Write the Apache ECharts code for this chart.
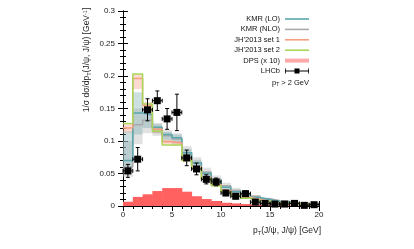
<!DOCTYPE html>
<html><head><meta charset="utf-8">
<script src="https://cdn.jsdelivr.net/npm/echarts@6/dist/echarts.min.js"></script>
<style>html,body{margin:0;padding:0;background:#fff}#c{width:414px;height:249px}</style>
</head><body><div id="c"></div>
<script>
const binEdges = [0,1,2,3,4,5,6,7,8,9,10,11,12,13,14,15,16,17,18,19,20];
const xTicks = [0,5,10,15,20];
const yTicks = [0,0.05,0.1,0.15,0.2,0.25,0.3];

const kmrLO     = [0.070,0.143,0.140,0.121,0.110,0.105,0.082,0.066,0.050,0.039,0.029,0.022,0.017,0.013,0.010,0.007,0.006,0.004,0.003,0.003];
const kmrLOlo   = [0.058,0.110,0.120,0.112,0.102,0.097,0.075,0.060,0.045,0.034,0.025,0.019,0.014,0.011,0.008,0.006,0.004,0.003,0.002,0.002];
const kmrLOhi   = [0.115,0.175,0.150,0.126,0.114,0.110,0.088,0.071,0.054,0.043,0.032,0.025,0.019,0.015,0.011,0.008,0.007,0.005,0.004,0.003];
const kmrNLO    = [0.060,0.125,0.132,0.118,0.108,0.103,0.082,0.067,0.052,0.041,0.031,0.024,0.019,0.015,0.011,0.008,0.007,0.005,0.004,0.003];
const kmrNLOlo  = [0.045,0.095,0.112,0.108,0.100,0.095,0.075,0.061,0.047,0.036,0.027,0.021,0.016,0.012,0.009,0.007,0.005,0.004,0.003,0.002];
const kmrNLOhi  = [0.100,0.150,0.145,0.128,0.117,0.112,0.092,0.075,0.059,0.047,0.036,0.028,0.022,0.017,0.013,0.010,0.008,0.006,0.005,0.004];
const jh1       = [0.120,0.196,0.155,0.118,0.099,0.097,0.072,0.060,0.044,0.033,0.024,0.018,0.013,0.010,0.007,0.005,0.004,0.003,0.003,0.002];
const jh1lo     = [0.113,0.180,0.148,0.112,0.095,0.093,0.068,0.056,0.041,0.031,0.022,0.016,0.012,0.009,0.006,0.005,0.004,0.003,0.002,0.002];
const jh1hi     = [0.126,0.203,0.160,0.122,0.102,0.100,0.075,0.062,0.046,0.035,0.026,0.019,0.014,0.011,0.008,0.006,0.005,0.004,0.003,0.002];
const jh2       = [0.127,0.203,0.157,0.115,0.094,0.094,0.070,0.058,0.042,0.031,0.022,0.016,0.012,0.009,0.007,0.005,0.004,0.003,0.002,0.002];
const dps       = [0.0066,0.014,0.018,0.023,0.0276,0.0276,0.022,0.015,0.0107,0.0077,0.005,0.004,0.003,0.002,0.0015,0.001,0.001,0.0008,0.0006,0.0005];
const lhcbX     = [0.5,1.5,2.5,3.5,4.5,5.5,6.5,7.5,8.5,9.5,10.5,11.5,12.5,13.5,14.5,15.5,16.5,17.5,18.5,19.5];
const lhcbY     = [0.054,0.072,0.148,0.162,0.134,0.144,0.074,0.057,0.041,0.037,0.020,0.015,0.019,0.006,0.004,0.003,0.003,0.004,0.001,0.002];
const lhcbErr   = [0.010,0.018,0.017,0.015,0.016,0.028,0.012,0.009,0.007,0.006,0.004,0.004,0.004,0.003,0.002,0.002,0.002,0.002,0.002,0.002];
const lhcbXErr  = 0.5;

function stepPts(vals){
  const out=[];
  for(let i=0;i<vals.length;i++){ out.push([binEdges[i],vals[i]]); out.push([binEdges[i+1],vals[i]]); }
  return out;
}
function bandData(lo,hi){ return lo.map((l,i)=>[binEdges[i],binEdges[i+1],l,hi[i]]); }
function bandSeries(name,lo,hi,fill){
  return {name:name,type:'custom',data:bandData(lo,hi),silent:true,
    renderItem:function(p,api){
      const a=api.coord([api.value(0),api.value(3)]);
      const b=api.coord([api.value(1),api.value(2)]);
      return {type:'rect',shape:{x:a[0],y:a[1],width:b[0]-a[0],height:b[1]-a[1]},style:{fill:fill}};
    }};
}
function lineSeries(name,vals,color){
  return {name:name,type:'line',data:stepPts(vals),symbol:'none',lineStyle:{color:color,width:1.5},itemStyle:{color:color},z:4};
}
const font='Liberation Sans';
const lineIcon='path://M0,0H24V1.6H0Z';
const chart=echarts.init(document.getElementById('c'),null,{renderer:'canvas'});
const axisCommon={min:0,axisLine:{show:true,lineStyle:{color:'#000',width:1}},splitLine:{show:false}};
chart.setOption({
  animation:false,
  grid:{left:123,right:95,top:11,bottom:43},
  xAxis:[
    Object.assign({type:'value',max:20,interval:5,axisTick:{inside:true,length:5,lineStyle:{color:'#000'}},
      minorTick:{show:true,splitNumber:5,length:3,lineStyle:{color:'#000'}},
      axisLabel:{fontFamily:font,fontSize:8,color:'#222',margin:5,formatter:v=>xTicks.includes(v)?String(v):''}},axisCommon),
    Object.assign({type:'value',position:'top',max:20,interval:5,axisTick:{inside:true,length:5,lineStyle:{color:'#000'}},
      minorTick:{show:true,splitNumber:5,length:3,lineStyle:{color:'#000'}},axisLabel:{show:false}},axisCommon)
  ],
  yAxis:[
    Object.assign({type:'value',max:0.3,interval:0.05,axisTick:{inside:true,length:5,lineStyle:{color:'#000'}},
      minorTick:{show:true,splitNumber:5,length:3,lineStyle:{color:'#000'}},
      axisLabel:{fontFamily:font,fontSize:8,color:'#222',margin:8,formatter:v=>{const t=yTicks.find(q=>Math.abs(q-v)<1e-9);return t===undefined?'':String(t);}}},axisCommon),
    Object.assign({type:'value',position:'right',max:0.3,interval:0.05,axisTick:{inside:true,length:5,lineStyle:{color:'#000'}},
      minorTick:{show:true,splitNumber:5,length:3,lineStyle:{color:'#000'}},axisLabel:{show:false}},axisCommon)
  ],
  legend:{orient:'vertical',right:105,top:14,padding:0,align:'right',itemWidth:24,itemHeight:10,itemGap:0.4,
    symbolKeepAspect:true,
    textStyle:{fontFamily:font,fontSize:7.5,color:'#111',lineHeight:10},
    data:[
      {name:'KMR (LO)',icon:lineIcon,itemStyle:{color:'#5aa8ae'}},
      {name:'KMR (NLO)',icon:lineIcon,itemStyle:{color:'#aaaaaa'}},
      {name:"JH'2013 set 1",icon:lineIcon,itemStyle:{color:'#f4a080'}},
      {name:"JH'2013 set 2",icon:lineIcon,itemStyle:{color:'#a6d65a'}},
      {name:'DPS (x 10)',icon:'path://M0,0H24V4H0Z',itemStyle:{color:'#ffaaaa'}},
      {name:'LHCb',icon:'path://M0,3.6H9.5V1.5H14.5V3.6H24V4.4H14.5V6.5H9.5V4.4H0ZM0,1.5H0.8V6.5H0ZM23.2,1.5H24V6.5H23.2ZM0,0H0.01V0.01H0ZM0,7.99H0.01V8H0Z',itemStyle:{color:'#000'}}
    ]},
  graphic:[
    {type:'text',x:87,y:60,rotation:Math.PI/2,style:{text:'1/σ dσ/dp{s|T}(J/ψ, J/ψ) [GeV{u|-1}]',fontFamily:font,fontSize:8.5,fill:'#222',align:'center',verticalAlign:'middle',
      rich:{s:{fontSize:5.5,fontFamily:font,fill:'#222',padding:[4,0,0,0]},u:{fontSize:5.5,fontFamily:font,fill:'#222',padding:[0,0,4,0]}}}},
    {type:'text',x:321,y:231,style:{text:'p{s|T}(J/ψ, J/ψ) [GeV]',fontFamily:font,fontSize:8.5,fill:'#222',align:'right',verticalAlign:'middle',
      rich:{s:{fontSize:5.5,fontFamily:font,fill:'#222',padding:[4,0,0,0]}}}},
    {type:'text',x:309,y:83,style:{text:'p{s|T} > 2 GeV',fontFamily:font,fontSize:7.5,fill:'#111',align:'right',verticalAlign:'middle',
      rich:{s:{fontSize:5,fontFamily:font,fill:'#111',padding:[3,0,0,0]}}}}
  ],
  series:[
    bandSeries('nlo band',kmrNLOlo,kmrNLOhi,'rgba(190,190,190,0.45)'),
    bandSeries('lo band',kmrLOlo,kmrLOhi,'rgba(110,165,170,0.35)'),
    bandSeries('jh1 band',jh1lo,jh1hi,'rgba(245,150,120,0.35)'),
    {name:'DPS (x 10)',type:'custom',data:dps.map((v,i)=>[binEdges[i],binEdges[i+1],v]),itemStyle:{color:'#ff6060'},z:3,
      renderItem:function(p,api){
        const a=api.coord([api.value(0),api.value(2)]);const b=api.coord([api.value(1),0]);
        return {type:'rect',shape:{x:a[0],y:a[1],width:b[0]-a[0]+0.5,height:b[1]-a[1]},style:{fill:'#ff6060'}};
      }},
    lineSeries('KMR (NLO)',kmrNLO,'#aaaaaa'),
    lineSeries('KMR (LO)',kmrLO,'#5aa8ae'),
    lineSeries("JH'2013 set 1",jh1,'#f4a080'),
    lineSeries("JH'2013 set 2",jh2,'#a6d65a'),
    {name:'LHCb',type:'custom',z:6,itemStyle:{color:'#000'},data:lhcbX.map((x,i)=>[x,lhcbY[i],lhcbErr[i]]),
      renderItem:function(p,api){
        const x=api.value(0),y=api.value(1),e=api.value(2);
        const c=api.coord([x,y]),t=api.coord([x,y+e]),b=api.coord([x,y-e]);
        const l=api.coord([x-lhcbXErr,y]),r=api.coord([x+lhcbXErr,y]);
        const ls={stroke:'#000',lineWidth:1};
        return {type:'group',children:[
          {type:'line',shape:{x1:c[0],y1:t[1],x2:c[0],y2:b[1]},style:ls},
          {type:'line',shape:{x1:c[0]-2,y1:t[1],x2:c[0]+2,y2:t[1]},style:ls},
          {type:'line',shape:{x1:c[0]-2,y1:b[1],x2:c[0]+2,y2:b[1]},style:ls},
          {type:'line',shape:{x1:l[0],y1:c[1],x2:r[0],y2:c[1]},style:ls},
          {type:'line',shape:{x1:l[0],y1:c[1]-2,x2:l[0],y2:c[1]+2},style:ls},
          {type:'line',shape:{x1:r[0],y1:c[1]-2,x2:r[0],y2:c[1]+2},style:ls},
          {type:'rect',shape:{x:c[0]-3.5,y:c[1]-3.5,width:7,height:7},style:{fill:'#000'}}
        ]};
      }}
  ]
});
</script></body></html>
